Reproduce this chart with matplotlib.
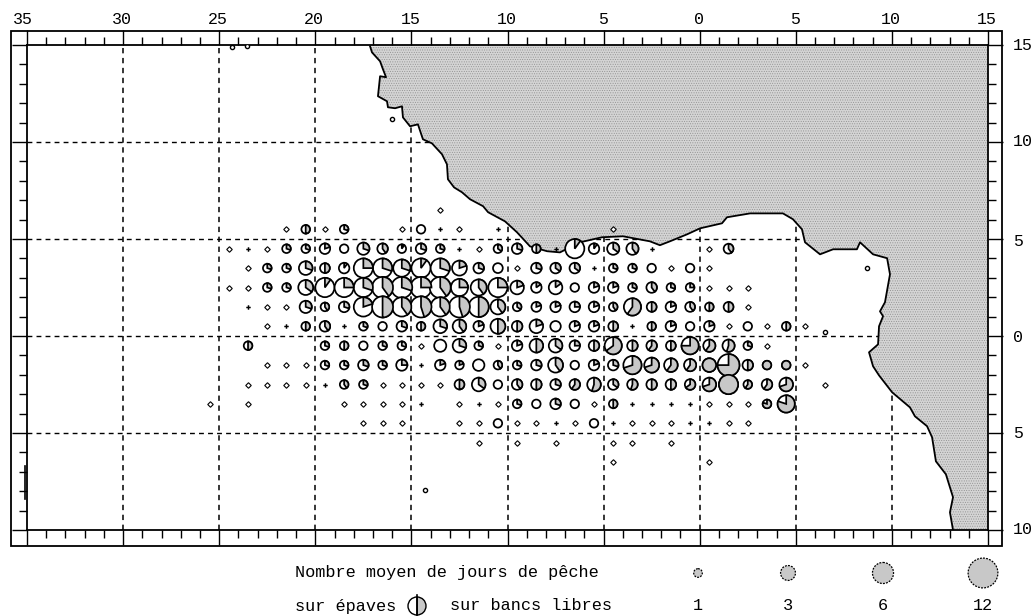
import numpy as np
import matplotlib
matplotlib.use("Agg")
import matplotlib.pyplot as plt
from matplotlib.patches import Circle, Wedge, Rectangle, Polygon

plt.rcParams['font.family'] = ['Liberation Mono', 'DejaVu Sans Mono']
plt.rcParams['hatch.linewidth'] = 0.4

# coast, lon / lat
coast_lon = [-17.15, -17.05, -16.63, -16.48, -16.32, -16.63, -16.74, -16.27, -16.22, -15.85,
             -15.49, -15.44, -15.07, -14.66, -14.40, -13.93, -13.41, -13.15, -13.10, -12.78,
             -12.37, -11.95, -11.27, -11.01, -10.13, -9.51, -8.83, -7.94, -7.27, -6.23,
             -5.08, -3.99, -2.59, -2.07, -1.55, -0.66, 0.02, 1.16, 1.42, 2.62,
             4.33, 4.85, 5.32, 5.48, 6.26, 6.94, 8.18, 8.34, 9.02, 9.75,
             9.90, 9.64, 9.38, 9.54, 9.33, 9.28, 8.81, 9.02, 9.33, 10.01,
             10.94, 11.20, 11.83, 12.09, 12.29, 12.81, 13.18, 13.02, 13.18]
coast_lat = [14.93, 14.62, 14.16, 13.75, 13.34, 13.39, 12.36, 12.10, 11.79, 11.74,
             11.84, 11.27, 10.81, 10.91, 10.14, 9.93, 9.37, 8.85, 8.08, 7.66,
             7.41, 7.05, 6.69, 6.38, 5.91, 5.35, 4.62, 4.37, 4.31, 4.83,
             5.09, 5.14, 4.88, 4.68, 4.88, 5.24, 5.55, 5.81, 6.12, 6.32,
             6.32, 6.02, 5.50, 4.83, 4.21, 4.47, 4.47, 4.83, 4.21, 4.01,
             3.18, 1.74, 1.27, 1.02, 0.50, -0.43, -0.84, -1.56, -2.03, -2.90,
             -3.68, -4.14, -4.65, -5.22, -6.46, -7.13, -8.31, -9.09, -10.0]

# fishing days and share on free schools, one set per 1 degree row
# days 0.2 = diamond, days 0.1 = small black mark
lon_p65 = [-13.5]
days_p65 = [.2]
free_p65 = [0]

lon_p55 = [-21.5, -20.5, -19.5, -18.5, -15.5, -14.5, -13.5, -12.5, -10.5, -4.5]
days_p55 = [.2, 1, .2, 1, .2, 1, .1, .2, .1, .2]
free_p55 = [0, .5, 0, .3, 0, 0, 0, 0, 0, 0]

lon_p45 = [*np.arange(-24.5, -1.5), 0.5, 1.5]
days_p45 = [.2, .1, .2, 1, 1, 1.5, 1, 2, 1.5, 1, 1.5, 1, .1, .2, 1, 1.5, 1, .1, 5, 1.5, 2, 2, .1, .2, 1.3]
free_p45 = [0, 0, 0, .3, .3, .2, 0, .3, .4, .1, .3, .3, 0, 0, .35, .3, .5, 0, .1, .1, .35, .4, 0, 0, .4]

lon_p35 = np.arange(-23.5, 1)
days_p35 = [.2, 1, 1, 2.5, 1.3, 1.5, 5, 5, 4, 5, 5, 3, 1.5, 1.3, .2, 1.5, 1.5, 1.5, .1, 1, 1, 1, .2, 1, .2]
free_p35 = [0, .3, .3, .3, .5, .1, .25, .3, .3, .1, .3, .2, .3, 0, 0, .3, .35, .35, 0, .3, .3, 0, 0, 0, 0]

lon_p25 = np.arange(-24.5, 3)
days_p25 = [.2, .2, 1, 1, 3, 5, 5, 5, 6, 6, 6, 6, 4, 3.5, 5, 2.5, 1.5, 2.5, 1, 1.5, 1.5, 1, 1.5, 1, 1, .2, .2, .2]
free_p25 = [0, 0, .3, .3, .35, .1, .25, .3, .4, .3, .25, .4, .25, .4, .25, .2, .15, .15, 0, .2, .2, .3, .4, .3, .25, 0, 0, 0]

lon_p15 = np.arange(-23.5, 3)
days_p15 = [.1, .2, .2, 2, 1, 1.5, 5, 6, 5, 6, 5, 6, 5.5, 3, 1, 1.3, 1.5, 1.5, 1.5, 1, 4, 1.3, 1.5, 1.3, 1, 1.3, .2]
free_p15 = [0, 0, 0, .3, .4, .3, .2, .5, .4, .45, .4, .45, .5, .4, .35, .2, .2, .25, .2, .4, .6, .5, .2, .4, .5, .5, 0]

lon_p05 = np.arange(-22.5, 6)
days_p05 = [.2, .1, 1, 1.5, .1, 1, 1, 1.5, 1, 2.5, 2.5, 1.5, 3, 1.5, 2.5, 1.5, 1.5, 1.5, 1.3, .1, 1, 1.5, 1, 1.5, .2, 1, .2, 1, .2]
free_p05 = [0, 0, .5, .4, 0, .3, 0, .3, .5, .3, .4, .2, .5, .5, .2, 0, .2, .2, .5, 0, .5, .2, 0, .2, 0, 0, 0, .5, 0]

lon_m05 = [-23.5, *np.arange(-19.5, 4)]
days_m05 = [1, 1, 1, 1, 1, 1, .2, 2, 2.5, 1, .2, 1.5, 2.5, 2.5, 1.5, 1.5, 4, 1.5, 1.5, 1.3, 4, 2, 2, 1, .2]
free_m05 = [.5, .3, .5, 0, .3, .3, 0, 0, .3, .3, 0, .2, .5, .35, .25, .5, .65, .5, .6, .5, .75, .6, .55, .3, 0]

lon_m15 = np.arange(-22.5, 6)
days_m15 = [.2, .2, .2, 1, 1, 1.5, 1, 1.7, .1, 1.5, 1, 1.8, 1, 1, 1.5, 3, 1, 1.5, 1.5, 4.5, 3, 2.5, 2, 2.5, 6.5, 1.5, 1, 1, .2]
free_m15 = [0, 0, 0, .3, .3, .3, .3, .25, 0, .2, .2, 0, .4, .3, .3, .4, 0, .2, .3, .7, .7, .6, .6, 1, .75, .5, 1, 1, 0]

lon_m25 = [*np.arange(-23.5, 5), 6.5]
days_m25 = [.2, .2, .2, .2, .1, 1, 1, .2, .2, .2, .2, 1.3, 2.5, 1, 1.5, 1.5, 1.5, 1.5, 2.5, 1.5, 1.5, 1.5, 1.5, 1.5, 2.5, 5, 1, 1.5, 2.5, .2]
free_m25 = [0, 0, 0, 0, 0, .4, .3, 0, 0, 0, 0, .5, .35, 0, .4, .5, .3, .6, .55, .35, .55, .5, .5, .65, .7, 1, .6, .6, .7, 0]

lon_m35 = [-25.5, -23.5, -18.5, -17.5, -16.5, -15.5, -14.5, -12.5, -11.5, -10.5, *np.arange(-9.5, 5)]
days_m35 = [.2, .2, .2, .2, .2, .2, .1, .2, .1, .2, 1, 1, 1.5, 1, .2, 1, .1, .1, .1, .1, .2, .2, .2, 1, 4]
free_m35 = [0] * 10 + [.3, 0, .3, 0, 0, .5, 0, 0, 0, 0, 0, 0, 0, .8, .8]

lon_m45 = [-17.5, -16.5, -15.5, -12.5, -11.5, -10.5, *np.arange(-9.5, 3)]
days_m45 = [.2, .2, .2, .2, .2, 1, .2, .2, .1, .2, 1, .1, .2, .2, .2, .1, .1, .2, .2]
free_m45 = [0] * 19

lon_m55 = [-11.5, -9.5, -7.5, -4.5, -3.5, -1.5]
days_m55 = [.2] * 6
free_m55 = [0] * 6

lon_m65 = [-4.5, 0.5]
days_m65 = [.2, .2]
free_m65 = [0, 0]

rows = [(6.5, lon_p65, days_p65, free_p65), (5.5, lon_p55, days_p55, free_p55),
        (4.5, lon_p45, days_p45, free_p45), (3.5, lon_p35, days_p35, free_p35),
        (2.5, lon_p25, days_p25, free_p25), (1.5, lon_p15, days_p15, free_p15),
        (0.5, lon_p05, days_p05, free_p05), (-0.5, lon_m05, days_m05, free_m05),
        (-1.5, lon_m15, days_m15, free_m15), (-2.5, lon_m25, days_m25, free_m25),
        (-3.5, lon_m35, days_m35, free_m35), (-4.5, lon_m45, days_m45, free_m45),
        (-5.5, lon_m55, days_m55, free_m55), (-6.5, lon_m65, days_m65, free_m65)]

# small islands
isl_lon = [8.7, 6.52, -16.01, -24.33, -23.55, -14.29]
isl_lat = [3.49, 0.19, 11.17, 14.9, 14.95, -7.95]

lon_labels = ['35', '30', '25', '20', '15', '10', '5', '0', '5', '10', '15']
lat_labels = ['15', '10', '5', '0', '5', '10']
legend_days = [1, 3, 6, 12]

W, H = 1034, 616
GRAY = '#c8c8c8'


def radius(n):
    return 4.3 * np.sqrt(n) / 19.3


def draw_pie(a, x, y, r, f, z=4):
    lw = 1.25
    a.add_patch(Circle((x, y), r, fc='white', ec='k', lw=lw, zorder=z))
    if f >= 0.99:
        a.add_patch(Circle((x, y), r, fc=GRAY, ec='k', lw=lw, zorder=z + 0.1))
    elif f > 0:
        a.add_patch(Wedge((x, y), r, 90 - 360 * f, 90, fc=GRAY, ec='k', lw=lw, zorder=z + 0.1))


fig = plt.figure(figsize=(W / 100, H / 100), dpi=100)
ax = fig.add_axes([27 / W, (H - 530) / H, 961 / W, 485 / H])
ax.set_xlim(-35, 15)
ax.set_ylim(-10, 15)

ax.set_xticks(np.arange(-35, 16, 5))
ax.set_yticks(np.arange(-10, 16, 5))
ax.set_xticks(np.arange(-35, 16), minor=True)
ax.set_yticks(np.arange(-10, 16), minor=True)
ax.tick_params(which='major', length=10.8, width=1.0, direction='out',
               top=True, right=True, labelbottom=False, labelleft=False)
ax.tick_params(which='minor', length=5.8, width=1.0, direction='out', top=True, right=True)
for s in ax.spines.values():
    s.set_linewidth(1.3)

for v in np.arange(-30, 15, 5):
    ax.axvline(v, color='k', lw=1.1, ls=(0, (3.5, 3)), zorder=1)
for v in np.arange(-5, 15, 5):
    ax.axhline(v, color='k', lw=1.0, ls=(0, (3.5, 3)), zorder=1)

# land
land = list(zip(coast_lon, coast_lat)) + [(15, -10), (15, 15)]
ax.add_patch(Polygon(land, closed=True, fc='#d4d4d4', ec='#8f8f8f', hatch='.......', lw=0, zorder=2))
ax.plot(coast_lon, coast_lat, color='k', lw=1.3, zorder=3)
ax.plot(isl_lon, isl_lat, ls='none', marker='o', ms=3, mfc='white', mec='k', mew=1, zorder=3)
ax.plot([-35.1, -35.1], [-6.7, -8.4], color='k', lw=1.2, zorder=3, clip_on=False)

for lat, lons, days, free in rows:
    for lon, d, f in zip(lons, days, free, strict=True):
        if d < 0.15:
            ax.plot(lon, lat, marker='P', ms=3.2, color='k', mew=0, zorder=4)
        elif d < 0.5:
            ax.plot(lon, lat, marker='D', ms=2.8, mfc='white', mec='k', mew=0.8, zorder=4)
        else:
            draw_pie(ax, lon, lat, radius(d), f)

# frame, labels and legend in pixel space
ov = fig.add_axes([0, 0, 1, 1])
ov.set_xlim(0, W)
ov.set_ylim(H, 0)
ov.axis('off')
ov.patch.set_alpha(0)
ov.add_patch(Rectangle((11, 31), 991, 515, fc='none', ec='k', lw=1.3))

lab_x = [23] + [27 + 19.22 * (lon + 35) - 1 for lon in np.arange(-30, 16, 5)]
for x, t in zip(lab_x, lon_labels):
    ov.text(x, 20, t, ha='center', va='center', fontsize=12)
lab_y = [45, 142, 241, 337, 434, 530]
for y, t in zip(lab_y, lat_labels):
    ov.text(1013, y, t, ha='left', va='center', fontsize=12)

ov.text(295, 573, 'Nombre moyen de jours de pêche', ha='left', va='center', fontsize=12.2)
ov.text(295, 606, 'sur épaves', ha='left', va='center', fontsize=12.2)
ov.text(450, 606, 'sur bancs libres', ha='left', va='center', fontsize=12.2)

ov.add_patch(Wedge((417, 606), 9, -90, 90, fc=GRAY, ec='k', lw=1))
ov.add_patch(Wedge((417, 606), 9, 90, 270, fc='white', ec='k', lw=1))
ov.plot([417, 417], [595, 616], color='k', lw=1.2)

for x, n in zip([698, 788, 883, 983], legend_days):
    ov.add_patch(Circle((x, 573), radius(n) * 19.3, fc=GRAY, ec='k', lw=0.9, ls=(0, (1.5, 1))))
    ov.text(x, 606, str(n), ha='center', va='center', fontsize=12.2)

fig.savefig('out.png', dpi=100)
